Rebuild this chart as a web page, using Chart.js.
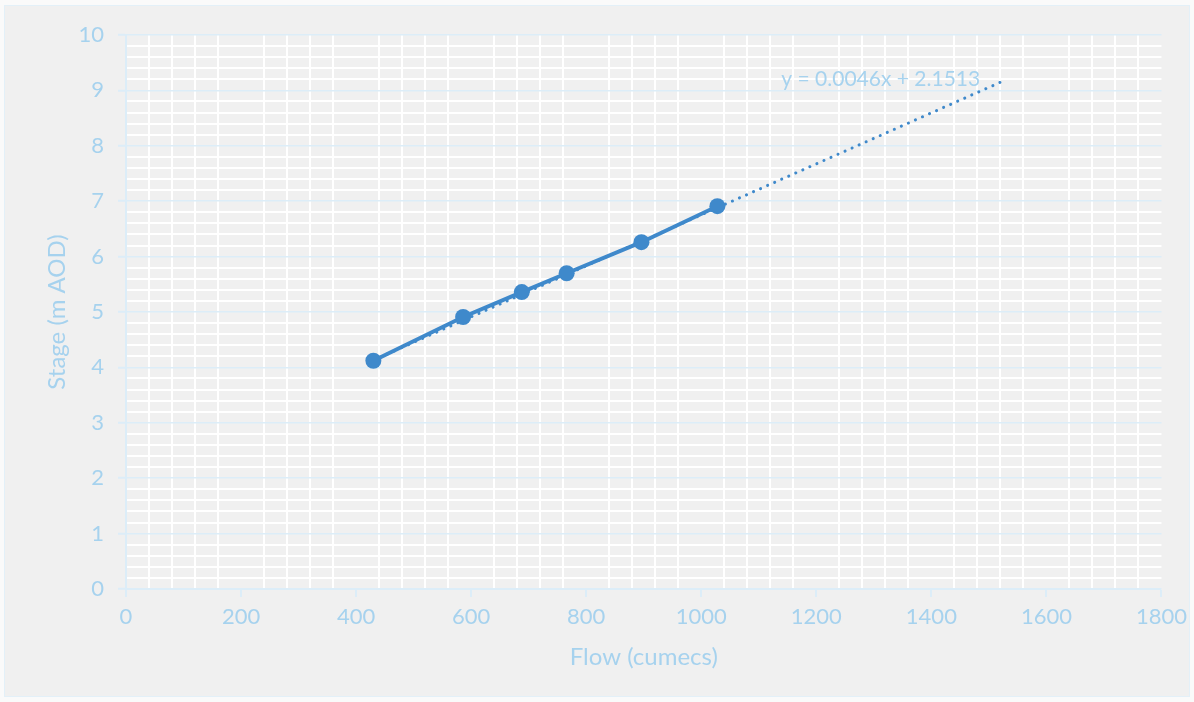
<!DOCTYPE html>
<html>
<head>
<meta charset="utf-8">
<script src="https://cdn.jsdelivr.net/npm/chart.js@4.4.1/dist/chart.umd.min.js"></script>
<style>
html,body{margin:0;padding:0;background:#fafafa;}
#wrap{position:absolute;left:0;top:0;width:1194px;height:702px;}
</style>
</head>
<body>
<div id="wrap"><canvas id="stageChart" width="1194" height="702"></canvas></div>
<script>
// measured points (flow in cumecs, stage in m AOD)
const flow  = [430, 586, 688, 766, 896, 1028];
const stage = [4.12, 4.91, 5.36, 5.70, 6.26, 6.91];
// linear trendline ends, forecast forward
const trendFlow  = [430, 1525];
const trendStage = [4.13, 9.17];
const equationLabel = "y = 0.0046x + 2.1513";
const xTickLabels = ["0","200","400","600","800","1000","1200","1400","1600","1800"];
const yTickLabels = ["0","1","2","3","4","5","6","7","8","9","10"];

const TXT="#a6d2ee", LINE="#3f89cb", MAJOR="#dcedf8", MINOR="#ffffff";
const FONT="Lato, 'Open Sans', sans-serif";
const isInt=(v,step)=>Math.abs(v/step-Math.round(v/step))<1e-6;

const bgPlugin={id:"bg",beforeDraw(chart){
  const c=chart.ctx; c.save();
  c.fillStyle="#f0f0f0"; c.fillRect(4,5,1186,692);
  c.strokeStyle="#e3f0f8"; c.lineWidth=1; c.strokeRect(4.5,5.5,1185,691);
  c.restore();
}};
const eqPlugin={id:"eq",afterDatasetsDraw(chart){
  const c=chart.ctx, x=chart.scales.x, y=chart.scales.y;
  c.save(); c.font="21px "+FONT; c.fillStyle=TXT; c.textAlign="center"; c.textBaseline="middle";
  c.fillText(equationLabel, x.getPixelForValue(1312), y.getPixelForValue(9.21));
  c.restore();
}};

new Chart(document.getElementById("stageChart"),{
  type:"scatter",
  data:{datasets:[
    {label:"Trend",data:trendFlow.map((f,i)=>({x:f,y:trendStage[i]})),showLine:true,borderColor:LINE,borderWidth:3,
     borderDash:[0.1,7.6],borderCapStyle:"round",pointRadius:0,order:2},
    {label:"Stage",data:flow.map((f,i)=>({x:f,y:stage[i]})),showLine:true,borderColor:LINE,backgroundColor:LINE,
     borderWidth:4,pointRadius:8,pointBorderWidth:0,pointBackgroundColor:LINE,order:1}
  ]},
  options:{
    responsive:false,animation:false,
    layout:{padding:{left:0,right:32,top:35,bottom:0}},
    plugins:{legend:{display:false},tooltip:{enabled:false}},
    scales:{
      x:{type:"linear",min:0,max:1800,
        afterFit(s){s.height=113;},
        border:{color:MAJOR,width:2},
        grid:{lineWidth:c=>isInt(c.tick.value,200)?0:2,color:c=>isInt(c.tick.value,200)?"rgba(0,0,0,0)":MINOR,
              tickLength:8,tickWidth:2,tickColor:c=>isInt(c.tick.value,200)?MAJOR:"rgba(0,0,0,0)"},
        ticks:{stepSize:40,autoSkip:false,maxRotation:0,minRotation:0,padding:7,color:TXT,font:{family:FONT,size:22},
               callback:v=>isInt(v,200)?xTickLabels[Math.round(v/200)]:""},
        title:{display:true,text:"Flow (cumecs)",color:TXT,font:{family:FONT,size:24},padding:{bottom:30}}
      },
      y:{type:"linear",min:0,max:10,
        afterFit(s){s.width=126;},
        border:{color:MAJOR,width:2},
        grid:{lineWidth:c=>isInt(c.tick.value,1)?1.5:2,color:c=>isInt(c.tick.value,1)?MAJOR:MINOR,
              tickLength:8,tickWidth:2,tickColor:c=>isInt(c.tick.value,1)?MAJOR:"rgba(0,0,0,0)"},
        ticks:{stepSize:0.2,autoSkip:false,padding:14,color:TXT,font:{family:FONT,size:22},
               callback:v=>isInt(v,1)?yTickLabels[Math.round(v)]:""},
        title:{display:true,text:"Stage (m AOD)",color:TXT,font:{family:FONT,size:24},padding:{top:43}}
      }
    }
  },
  plugins:[bgPlugin,eqPlugin]
});
</script>
</body>
</html>
